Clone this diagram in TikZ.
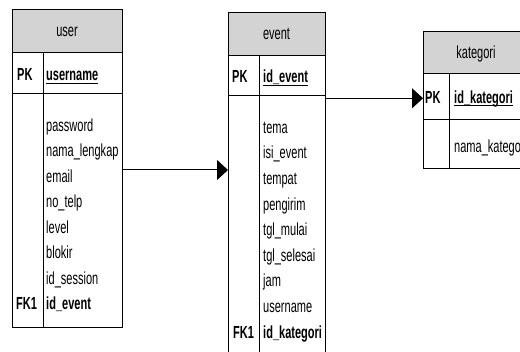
\documentclass[tikz,border=0pt]{standalone}
\usepackage{fontspec}
\setmainfont[FakeStretch=0.63]{Liberation Sans}
\usetikzlibrary{arrows.meta}
\definecolor{hdrgray}{RGB}{211,211,211}
\newcommand\myul[1]{\setbox0\hbox{#1}\rlap{\rule[-3pt]{\wd0}{0.9pt}}\box0}
\begin{document}
\begin{tikzpicture}[x=1pt,y=-1pt,
  frame/.style={draw=black,line width=1pt,inner sep=0pt,anchor=north west},
  hdr/.style={frame,fill=hdrgray},
  sep/.style={draw=black,line width=1pt},
  txt/.style={anchor=base west,inner sep=0pt,font=\fontsize{17.5}{17.5}\selectfont},
  key/.style={txt,font=\fontsize{17.5}{17.5}\selectfont\bfseries},
  htxt/.style={anchor=base,inner sep=0pt,font=\fontsize{17.5}{17.5}\selectfont},
  rel/.style={line width=1pt,-{Triangle[length=11pt,width=20pt]}}]
\path[use as bounding box] (0,0) rectangle (520,352);
\clip (0,0) rectangle (520,352);

% ---------- user ----------
\node[frame,minimum width=110pt,minimum height=318pt] (user) at (12,9) {};
\node[hdr,minimum width=110pt,minimum height=43pt] (userh) at (12,9) {};
\draw[sep] (12,94) -- (122,94);
\draw[sep] (43,52) -- (43,327);
\node[htxt] (ut) at (67,37) {user};
\node[key] (upk) at (17,81) {PK};
\node[key] (u0) at (46,81) {\myul{username}};
\node[txt] (u1) at (46,131.5) {password};
\node[txt] (u2) at (46,157) {nama\_lengkap};
\node[txt] (u3) at (46,182.5) {email};
\node[txt] (u4) at (46,208) {no\_telp};
\node[txt] (u5) at (46,233.5) {level};
\node[txt] (u6) at (46,259) {blokir};
\node[txt] (u7) at (46,284.5) {id\_session};
\node[key] (ufk) at (16,310) {FK1};
\node[key] (u8) at (46,310) {id\_event};

% ---------- event ----------
\node[frame,minimum width=97pt,minimum height=350pt] (event) at (228,12) {};
\node[hdr,minimum width=97pt,minimum height=43pt] (eventh) at (228,12) {};
\draw[sep] (228,96) -- (325,96);
\draw[sep] (259,55) -- (259,362);
\node[htxt] (et) at (276.5,39.3) {event};
\node[key] (epk) at (232,82.7) {PK};
\node[key] (e0) at (263,82.7) {\myul{id\_event}};
\node[txt] (e1) at (263,133.3) {tema};
\node[txt] (e2) at (263,158.9) {isi\_event};
\node[txt] (e3) at (263,184.5) {tempat};
\node[txt] (e4) at (263,210.1) {pengirim};
\node[txt] (e5) at (263,235.7) {tgl\_mulai};
\node[txt] (e6) at (263,261.3) {tgl\_selesai};
\node[txt] (e7) at (263,286.9) {jam};
\node[txt] (e8) at (263,312.5) {username};
\node[key] (efk) at (233,338.1) {FK1};
\node[key] (e9) at (263,338.1) {id\_kategori};

% ---------- kategori ----------
\node[frame,minimum width=107pt,minimum height=137pt] (kat) at (423,31) {};
\node[hdr,minimum width=107pt,minimum height=42pt] (kath) at (423,31) {};
\draw[sep] (423,120) -- (530,120);
\draw[sep] (449,73) -- (449,168);
\node[htxt] (kt) at (476,58.3) {kategori};
\node[key] (kpk) at (425,103.3) {PK};
\node[key] (k0) at (454,103.3) {\myul{id\_kategori}};
\node[txt] (k1) at (454,152.7) {nama\_kategori};

% ---------- relations ----------
\coordinate (r1) at (0,170);
\coordinate (r2) at (0,98.3);
\draw[rel] (user.east |- r1) -- (event.west |- r1);
\draw[rel] (event.east |- r2) -- (kat.west |- r2);
\end{tikzpicture}
\end{document}
